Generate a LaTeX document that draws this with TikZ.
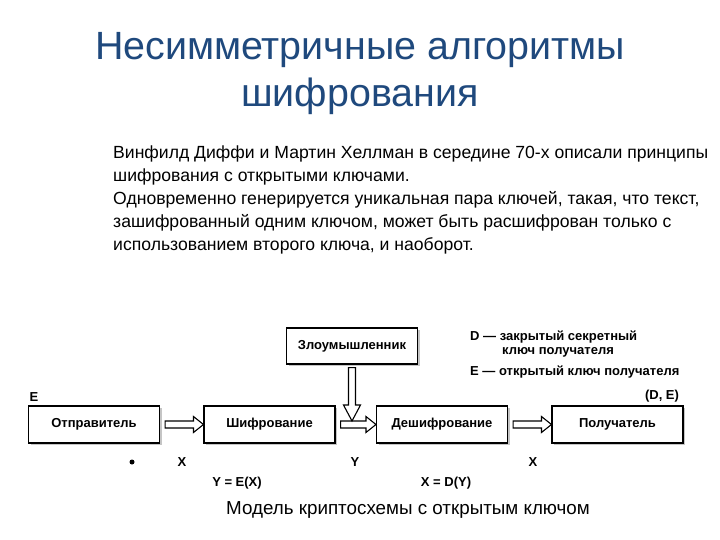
\documentclass[tikz,border=0pt]{standalone}
\usepackage{fontspec}
\setmainfont{Liberation Sans}
\usetikzlibrary{calc,shadows}
\definecolor{titleblue}{RGB}{31,73,125}
\tikzset{
  box/.style={draw,line width=1.1pt,fill=white,minimum width=131pt,minimum height=37pt,
    font=\fontsize{13}{15}\selectfont\bfseries,
    drop shadow={shadow xshift=2pt,shadow yshift=-2pt,fill=black!45}},
  lbl/.style={font=\fontsize{13}{15}\selectfont\bfseries,inner sep=0pt},
  hollow/.style={draw,line width=1.1pt,fill=white,line join=miter}
}
% hollow arrow from one box to the next
\newcommand{\hollowto}[2]{%
\draw[hollow] ($(#1.east)+(5,-3.5)$) -- ($(#2.west)+(-10,-3.5)$) -- ($(#2.west)+(-10,-8)$)
  -- (#2.west) -- ($(#2.west)+(-10,8)$) -- ($(#2.west)+(-10,3.5)$) -- ($(#1.east)+(5,3.5)$) -- cycle;}
\begin{document}
\begin{tikzpicture}[x=1pt,y=-1pt]
\useasboundingbox (0,0) rectangle (720,540);

\node[text=titleblue,align=center,font=\fontsize{39.4}{47}\selectfont] (title) at (360,74)
  {Несимметричные алгоритмы\\шифрования};

\node[anchor=north west,align=left,inner sep=0pt,font=\fontsize{17.6}{23}\selectfont] (intro) at (113,146)
  {Винфилд Диффи и Мартин Хеллман в середине 70-х описали принципы\\
   шифрования с открытыми ключами.\\
   Одновременно генерируется уникальная пара ключей, такая, что текст,\\
   зашифрованный одним ключом, может быть расшифрован только с\\
   использованием второго ключа, и наоборот.};

\node[box] (send) at (94,424.5) {Отправитель};
\node[box] (enc) at (269.5,424.5) {Шифрование};
\node[box] (dec) at (442,424.5) {Дешифрование};
\node[box] (recv) at (617.5,424.5) {Получатель};
\node[box,minimum height=36pt] (spy) at (352,346) {Злоумышленник};
\coordinate (hit) at (352,421);

\hollowto{send}{enc}
\hollowto{enc}{dec}
\hollowto{dec}{recv}
\draw[hollow] ($(spy.south)+(-3.5,3)$) -- ($(hit)+(-3.5,-16)$) -- ($(hit)+(-8.5,-16)$)
  -- (hit) -- ($(hit)+(8.5,-16)$) -- ($(hit)+(3.5,-16)$) -- ($(spy.south)+(3.5,3)$) -- cycle;

\node[lbl] (keyE) at (34,397) {E};
\node[lbl] (keyDE) at (662,396) {(D, E)};
\fill (132,462) circle (2.5);
\node[lbl] (x1) at (182,462) {X};
\node[lbl] (y1) at (355,462) {Y};
\node[lbl] (x2) at (533,462) {X};
\node[lbl] (encf) at (237,483) {Y = E(X)};
\node[lbl] (decf) at (446,483) {X = D(Y)};

\node[lbl,anchor=west] (legD) at (470,337) {D — закрытый секретный};
\node[lbl,anchor=west] (legD2) at (502,352) {ключ получателя};
\node[lbl,anchor=west] (legE) at (470,372) {E — открытый ключ получателя};

\node[font=\fontsize{18.8}{20}\selectfont] (caption) at (408,510) {Модель криптосхемы с открытым ключом};
\end{tikzpicture}
\end{document}
